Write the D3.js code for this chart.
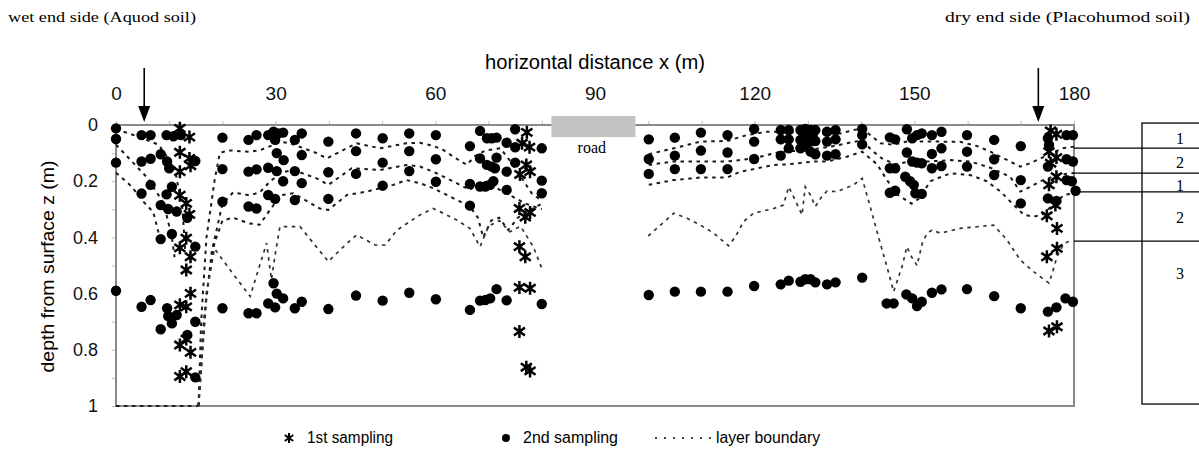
<!DOCTYPE html>
<html><head><meta charset="utf-8">
<script src="https://cdn.jsdelivr.net/npm/d3@7"></script>
<style>body{margin:0;background:#fff} svg{display:block}</style>
</head><body><svg id="c" width="1199" height="454"></svg>
<script>
// ---------- data ----------
const xTickLabels = [0, 30, 60, 90, 120, 150, 180];
const xMinorTicks = d3.range(0, 181, 10);
const yTickLabels = [0, 0.2, 0.4, 0.6, 0.8, 1];
const yMinorTicks = d3.range(0, 1.01, 0.1);
const arrowsX = [5.3, 173.3];
const roadSpan = [81.8, 97.6];

// 1st sampling (asterisks): [x (m), z (m)]
const firstSampling = [
  [12,0.012],[13.8,0.043],[12,0.097],[13.8,0.119],[14,0.145],[12,0.166],[12,0.25],[13.2,0.279],
  [13.8,0.318],[13.2,0.403],[12,0.437],[14,0.469],[13.2,0.516],[14,0.599],[12,0.64],[13.2,0.647],
  [13.2,0.762],[12,0.783],[14,0.809],[12,0.895],[13.2,0.878],
  [77.2,0.026],[76.3,0.065],[77.7,0.079],[77.1,0.142],[75.9,0.176],[77.8,0.166],[75.8,0.297],
  [77.8,0.311],[76.9,0.328],[75.8,0.433],[76.9,0.469],[75.8,0.578],[77.8,0.581],[75.8,0.735],
  [77.1,0.862],[77.8,0.875],
  [175.6,0.021],[176.7,0.033],[175.3,0.095],[176.7,0.116],[175.6,0.136],[176.7,0.184],[175.3,0.213],
  [176.5,0.285],[174.9,0.323],[176.8,0.368],[176.8,0.439],[174.9,0.469],[175.3,0.733],[176.8,0.718]
];

// 2nd sampling (filled circles): [x (m), z (m)]
const secondSampling = [
  [0,0.012],[0,0.05],[0,0.134],[0,0.59],
  [4.8,0.036],[6.5,0.036],[4.8,0.13],[6.5,0.12],[8.4,0.104],[6.5,0.213],[4.8,0.244],[8.4,0.285],
  [9.8,0.299],[11.4,0.308],[13.4,0.33],[9.5,0.036],[10.8,0.04],[12.2,0.036],[9.6,0.13],[10,0.154],
  [10.5,0.22],[9.5,0.247],[14.9,0.128],[8.4,0.406],[10.5,0.388],[14.9,0.433],
  [20,0.045],[20,0.157],[20,0.273],[20,0.652],
  [4.8,0.647],[6.5,0.623],[9.6,0.652],[9.8,0.68],[11.4,0.676],[10.5,0.706],[8.4,0.727],[14.9,0.70],
  [13.4,0.747],[14.9,0.898],
  [24.9,0.053],[26.4,0.036],[24.9,0.166],[26.4,0.158],[24.9,0.29],[26.4,0.297],[24.9,0.67],[26.4,0.67],
  [28.6,0.036],[29.6,0.024],[30.5,0.03],[31.4,0.027],[28.6,0.152],[30.2,0.164],[30.2,0.1],[31.5,0.125],
  [29.9,0.053],[28.6,0.249],[29.9,0.263],[31.4,0.2],[29.6,0.563],[30.2,0.6],[31.4,0.617],[28.6,0.635],
  [29.9,0.649],
  [33.6,0.053],[34.9,0.03],[34.9,0.107],[33.6,0.164],[34.9,0.207],[33.6,0.267],[33.6,0.652],[34.9,0.629],
  [39.9,0.059],[39.9,0.168],[39.9,0.263],[39.9,0.655],
  [45.1,0.03],[45.1,0.093],[45.1,0.174],[45.1,0.607],
  [50.1,0.047],[50.1,0.134],[50.1,0.216],[50.1,0.625],
  [55.1,0.03],[55.1,0.093],[55.1,0.164],[55.1,0.597],
  [60.1,0.036],[60.1,0.122],[60.1,0.202],[60.1,0.62],
  [66.5,0.075],[66.5,0.21],[66.5,0.287],[66.5,0.658],
  [68.4,0.021],[69.7,0.047],[70.6,0.047],[71.5,0.045],[73.4,0.063],[75,0.015],[75,0.079],
  [68.4,0.119],[69.7,0.142],[70.6,0.148],[71.5,0.116],[71.2,0.154],[73.4,0.166],[75,0.134],
  [68.4,0.219],[69.4,0.219],[70.3,0.213],[70.9,0.2],[73.4,0.231],
  [80,0.083],[80,0.198],[80,0.243],[80,0.637],
  [71.5,0.584],[68.4,0.625],[69.4,0.623],[70.3,0.617],[73.4,0.624],
  [100.1,0.051],[100.1,0.121],[100.1,0.174],[100.1,0.605],
  [105,0.045],[105,0.109],[105,0.157],[105,0.593],
  [109.9,0.027],[109.9,0.091],[109.9,0.157],[109.9,0.593],
  [114.9,0.036],[114.9,0.098],[114.9,0.157],[114.9,0.593],
  [119.9,0.014],[119.9,0.059],[119.9,0.121],[119.9,0.573],
  [124.9,0.018],[126.4,0.018],[124.9,0.051],[126.4,0.051],[124.9,0.109],[126.4,0.083],[124.9,0.567],[126.4,0.554],
  [128.6,0.018],[129.5,0.014],[130.5,0.018],[131.4,0.018],[128.6,0.053],[129.5,0.047],[130.5,0.059],
  [131.4,0.057],[128.6,0.083],[129.5,0.077],[130.5,0.095],[131.4,0.104],[129.9,0.036],[130.9,0.036],
  [128.6,0.558],[129.5,0.549],[130.5,0.549],[131.4,0.56],
  [133.6,0.024],[135.2,0.018],[133.6,0.059],[135.2,0.051],[133.6,0.109],[135.2,0.104],[133.6,0.567],[135.2,0.56],
  [140.2,0.014],[140.2,0.036],[140.2,0.069],[140.2,0.543],
  [145.4,0.044],[146.4,0.051],[145.4,0.154],[146.4,0.154],[145.4,0.241],[146.4,0.234],[144.8,0.635],[146.1,0.635],
  [148.6,0.015],[149.6,0.047],[150.5,0.036],[151.4,0.03],[148.6,0.098],[149.6,0.13],[150.5,0.134],[151.4,0.136],
  [148.3,0.184],[149.2,0.2],[149.9,0.213],[150.2,0.243],[151.4,0.245],
  [148.5,0.603],[149.6,0.617],[150.5,0.644],[151.4,0.629],
  [153.3,0.036],[155.1,0.024],[153.3,0.103],[155.1,0.083],[153.3,0.154],[155.1,0.146],[153.3,0.597],[155.1,0.585],
  [159.9,0.036],[159.9,0.095],[159.9,0.148],[159.9,0.584],
  [165,0.053],[165,0.122],[165,0.178],[165,0.609],
  [170,0.075],[170,0.196],[170,0.279],[170,0.652],
  [175.1,0.047],[175.3,0.071],[175.1,0.148],[175.1,0.261],[176.7,0.27],[175.1,0.664],[176.7,0.649],
  [178.6,0.036],[179.8,0.036],[178.6,0.122],[179.8,0.13],[178.6,0.196],[179.6,0.2],[180.3,0.234],
  [178.4,0.617],[179.8,0.629]
];

// layer boundaries (dotted polylines), wet end
const boundaryWetA = [[0,0.015],[4,0.04],[8,0.07],[11,0.15],[12.5,0.3],[13,0.45]];
const boundaryWetB = [[0,0.07],[3,0.13],[6,0.19],[9,0.28],[10.5,0.4],[11,0.47]];
const boundaryWetC = [[0,0.17],[3,0.22],[5,0.27],[7,0.31],[8.5,0.42]];
const boundaryBottom = [[0,1.0],[15.5,1.0]];
// left of road
const boundary1West = [[15.5,1.0],[16,0.7],[17,0.4],[18.5,0.2],[19.5,0.1],[21,0.09],[25,0.095],[27,0.09],[29,0.075],
  [31,0.06],[32.7,0.065],[37.7,0.1],[39.6,0.119],[45.2,0.065],[49.6,0.083],[54.6,0.065],[57.1,0.063],[59.6,0.074],
  [61.5,0.089],[63.4,0.113],[65.9,0.142],[67.5,0.11],[69.5,0.09],[72.2,0.083],[73.7,0.119],[75,0.154],[76.6,0.2],
  [78.1,0.243],[80,0.27]];
const boundary2West = [[15.5,1.0],[16.5,0.7],[18,0.45],[20,0.28],[22,0.24],[25,0.25],[27,0.24],[29,0.2],[31,0.17],
  [33.3,0.16],[37.7,0.19],[39.9,0.213],[44.3,0.154],[49.6,0.16],[54.6,0.142],[57.1,0.148],[59.6,0.166],[64,0.207],
  [66.5,0.231],[68,0.21],[70,0.2],[72,0.23],[74,0.25],[77,0.28],[80,0.3]];
const boundary3West = [[15.5,1.0],[17,0.6],[18.5,0.42],[20,0.34],[22,0.33],[25,0.35],[27,0.355],[29,0.3],[31,0.25],
  [33.3,0.243],[38.3,0.297],[39.9,0.302],[43.4,0.249],[47.1,0.237],[52.1,0.213],[54.6,0.196],[57.1,0.207],
  [59.6,0.225],[64.7,0.273],[66.5,0.29],[68,0.33],[69,0.4],[70.5,0.34],[72,0.33],[73.7,0.374],[75.5,0.33],
  [78,0.3],[80,0.28]];
const boundary4West = [[15.5,1.0],[17,0.6],[18.5,0.44],[22,0.53],[25.2,0.61],[27,0.5],[28.3,0.42],[29.2,0.55],
  [30,0.45],[30.8,0.362],[34.6,0.362],[37.1,0.421],[39.9,0.486],[42.4,0.439],[45.2,0.391],[48.7,0.427],
  [50.6,0.427],[52.8,0.374],[57.1,0.32],[59.6,0.297],[61.5,0.314],[64,0.338],[66.5,0.368],[68.4,0.433],
  [70,0.36],[72,0.34],[74,0.38],[76,0.36],[78.4,0.433],[80,0.51]];
// right of road
const boundary1East = [[100.1,0.104],[104.8,0.083],[109.8,0.059],[114.8,0.057],[118.5,0.036],[122.3,0.024],[126,0.025],
  [131,0.03],[136.1,0.03],[138.6,0.018],[140.2,0.012],[142,0.04],[143.6,0.065],[146,0.07],[148.6,0.059],[154.9,0.059],
  [158.6,0.06],[161.8,0.075],[164.3,0.095],[168,0.13],[169.9,0.148],[171.8,0.136],[173.7,0.119],[177.8,0.083],[180,0.077]];
const boundary2East = [[100.1,0.142],[104.8,0.13],[109.8,0.13],[114.8,0.13],[119.8,0.119],[124.8,0.095],[130,0.09],
  [134.8,0.075],[138.6,0.06],[140.2,0.055],[142,0.09],[144,0.12],[146.5,0.14],[149,0.13],[152.4,0.13],[156.8,0.125],
  [160.5,0.13],[164,0.15],[168,0.184],[169.9,0.237],[171.8,0.22],[173.7,0.2],[176.8,0.178],[180,0.171]];
const boundary3East = [[100.1,0.213],[104.8,0.196],[109.8,0.187],[114.8,0.187],[117.3,0.166],[119.8,0.157],[123.6,0.142],
  [126.1,0.14],[131.1,0.13],[133.6,0.13],[137.3,0.113],[140.2,0.095],[143,0.14],[145,0.2],[147,0.25],[149.5,0.28],
  [151,0.26],[153,0.2],[156.8,0.172],[160.5,0.178],[163.6,0.2],[166.2,0.237],[168.7,0.285],[170.6,0.32],[172.4,0.326],
  [174,0.32],[178.1,0.249],[180,0.243]];
const boundary4East = [[100,0.395],[101.6,0.368],[104.8,0.314],[107.3,0.332],[109.8,0.356],[112.3,0.385],[115.1,0.43],
  [116.4,0.397],[117.9,0.344],[119.8,0.314],[123.6,0.297],[125.4,0.285],[126.4,0.22],[127.6,0.267],[128.9,0.32],
  [129.5,0.22],[130.5,0.25],[131.4,0.29],[132.6,0.255],[133.6,0.235],[135.5,0.237],[138.6,0.213],[140.2,0.19],
  [141.7,0.29],[143.6,0.421],[145.2,0.528],[146.1,0.593],[147.7,0.504],[148.6,0.433],[149.5,0.47],[150.5,0.5],
  [151.5,0.42],[152.4,0.385],[153.3,0.374],[154.9,0.385],[158.6,0.368],[161.8,0.362],[164.9,0.356],[167.4,0.409],
  [169.9,0.48],[172.4,0.522],[175.3,0.563],[175.9,0.528],[176.8,0.469],[178.1,0.421],[179.9,0.409]];

// layer column at the right
const layerEdges = [0.082, 0.171, 0.238, 0.413];
const layerNames = ["1", "2", "1", "2", "3"];
const layerLabelDepths = [0.05, 0.135, 0.218, 0.33, 0.53];

// ---------- drawing ----------
const svg = d3.select("#c");
const x = d3.scaleLinear().domain([0, 180]).range([116, 1074]);
const y = d3.scaleLinear().domain([0, 1]).range([125, 406]);
const sans = "'Liberation Sans', Arial, sans-serif";
const serif = "'Liberation Serif', 'Times New Roman', serif";

// headers
svg.append("text").attr("x", 8).attr("y", 22).attr("font-family", serif).attr("font-size", 15)
  .attr("textLength", 188).attr("lengthAdjust", "spacingAndGlyphs").text("wet end side (Aquod soil)");
svg.append("text").attr("x", 945).attr("y", 22).attr("font-family", serif).attr("font-size", 15)
  .attr("textLength", 245).attr("lengthAdjust", "spacingAndGlyphs").text("dry end side (Placohumod soil)");
svg.append("text").attr("x", 595).attr("y", 69).attr("text-anchor", "middle").attr("font-family", sans)
  .attr("font-size", 20).attr("textLength", 220).attr("lengthAdjust", "spacingAndGlyphs")
  .text("horizontal distance x (m)");

// minor ticks (top & left)
svg.append("g").attr("transform", `translate(0,${y(0)})`)
  .call(d3.axisTop(x).tickValues(xMinorTicks).tickSize(4).tickFormat(""))
  .call(g => g.select(".domain").remove())
  .call(g => g.selectAll("line").attr("stroke", "#bbb"));
svg.append("g").attr("transform", `translate(${x(0)},0)`)
  .call(d3.axisLeft(y).tickValues(yMinorTicks).tickSize(4).tickFormat(""))
  .call(g => g.select(".domain").remove())
  .call(g => g.selectAll("line").attr("stroke", "#bbb"));

// labelled axes
const gx = svg.append("g").attr("transform", `translate(0,${y(0)})`)
  .call(d3.axisTop(x).tickValues(xTickLabels).tickSize(0).tickPadding(25).tickFormat(d3.format("d")));
gx.select(".domain").remove();
gx.selectAll("text").attr("font-family", sans).attr("font-size", 19).attr("fill", "#111");
const gy = svg.append("g").attr("transform", `translate(${x(0)},0)`)
  .call(d3.axisLeft(y).tickValues(yTickLabels).tickSize(0).tickPadding(18)
    .tickFormat(d => d === 0 || d === 1 ? d3.format("d")(d) : d3.format(".1f")(d)));
gy.select(".domain").remove();
gy.selectAll("text").attr("font-family", sans).attr("font-size", 18).attr("fill", "#111");

// y title
svg.append("text").attr("transform", `translate(54,${(y(0) + y(1)) / 2 + 1}) rotate(-90)`)
  .attr("text-anchor", "middle").attr("font-family", sans).attr("font-size", 19)
  .attr("textLength", 212).attr("lengthAdjust", "spacingAndGlyphs").text("depth from surface z (m)");

// frame
svg.append("rect").attr("x", x(0)).attr("y", y(0)).attr("width", x(180) - x(0)).attr("height", y(1) - y(0))
  .attr("fill", "none").attr("stroke", "#8a8a8a").attr("stroke-width", 2);

// road
svg.append("rect").attr("x", x(roadSpan[0])).attr("y", y(-0.032)).attr("width", x(roadSpan[1]) - x(roadSpan[0]))
  .attr("height", y(0.043) - y(-0.032)).attr("fill", "#c3c3c3");
svg.append("text").attr("x", x(89.4)).attr("y", y(0.1)).attr("text-anchor", "middle")
  .attr("font-family", serif).attr("font-size", 16).text("road");

// boundaries
const line = d3.line().x(d => x(d[0])).y(d => y(d[1]));
const darkLines = [boundaryWetA, boundaryWetB, boundaryWetC, boundaryBottom, boundary1West, boundary2West,
  boundary3West, boundary1East, boundary2East, boundary3East];
const lightLines = [boundary4West, boundary4East];
svg.append("g").selectAll("path").data(darkLines).join("path")
  .attr("d", line).attr("fill", "none").attr("stroke", "#1a1a1a").attr("stroke-width", 2)
  .attr("stroke-dasharray", "3.5,4.5");
svg.append("g").selectAll("path").data(lightLines).join("path")
  .attr("d", line).attr("fill", "none").attr("stroke", "#333").attr("stroke-width", 1.7)
  .attr("stroke-dasharray", "3.5,4.5");

// markers
function asteriskPath(r) {
  const a = r * 0.85, b = r * 0.6;
  return `M0,${-r}L0,${r}M${-a},${-b}L${a},${b}M${-a},${b}L${a},${-b}`;
}
svg.append("g").selectAll("circle").data(secondSampling).join("circle")
  .attr("cx", d => x(d[0])).attr("cy", d => y(d[1])).attr("r", 5.2).attr("fill", "#000");
svg.append("g").selectAll("path").data(firstSampling).join("path")
  .attr("transform", d => `translate(${x(d[0])},${y(d[1])})`).attr("d", asteriskPath(6.5))
  .attr("fill", "none").attr("stroke", "#000").attr("stroke-width", 2.5);

// arrows
const ga = svg.append("g").selectAll("g").data(arrowsX).join("g")
  .attr("transform", d => `translate(${x(d)},0)`);
ga.append("line").attr("x1", 0).attr("x2", 0).attr("y1", 68).attr("y2", 110).attr("stroke", "#000").attr("stroke-width", 1.6);
ga.append("path").attr("d", "M-6,106L6,106L0,122Z").attr("fill", "#000");

// layer column
const colX = 1142;
svg.append("rect").attr("x", colX).attr("y", y(-0.007)).attr("width", 80).attr("height", y(0.993) - y(-0.007))
  .attr("fill", "none").attr("stroke", "#000").attr("stroke-width", 1.3);
svg.append("g").selectAll("line").data(layerEdges).join("line")
  .attr("x1", x(180)).attr("x2", 1199).attr("y1", d => y(d)).attr("y2", d => y(d))
  .attr("stroke", "#000").attr("stroke-width", 1.3);
svg.append("g").selectAll("text").data(layerNames).join("text")
  .attr("x", 1180).attr("y", (d, i) => y(layerLabelDepths[i]) + 5).attr("text-anchor", "middle")
  .attr("font-family", serif).attr("font-size", 16).text(d => d);

// legend
const ly = 438;
svg.append("path").attr("transform", `translate(289,${ly})`).attr("d", asteriskPath(5))
  .attr("fill", "none").attr("stroke", "#000").attr("stroke-width", 2);
svg.append("text").attr("x", 307).attr("y", ly + 5).attr("font-family", sans).attr("font-size", 16)
  .attr("textLength", 86).attr("lengthAdjust", "spacingAndGlyphs").text("1st sampling");
svg.append("circle").attr("cx", 506).attr("cy", ly).attr("r", 4).attr("fill", "#000");
svg.append("text").attr("x", 523).attr("y", ly + 5).attr("font-family", sans).attr("font-size", 16)
  .attr("textLength", 95).attr("lengthAdjust", "spacingAndGlyphs").text("2nd sampling");
svg.append("line").attr("x1", 655).attr("x2", 713).attr("y1", ly).attr("y2", ly)
  .attr("stroke", "#000").attr("stroke-width", 1.6).attr("stroke-dasharray", "2,7");
svg.append("text").attr("x", 716).attr("y", ly + 5).attr("font-family", sans).attr("font-size", 16)
  .attr("textLength", 104).attr("lengthAdjust", "spacingAndGlyphs").text("layer boundary");
</script></body></html>
